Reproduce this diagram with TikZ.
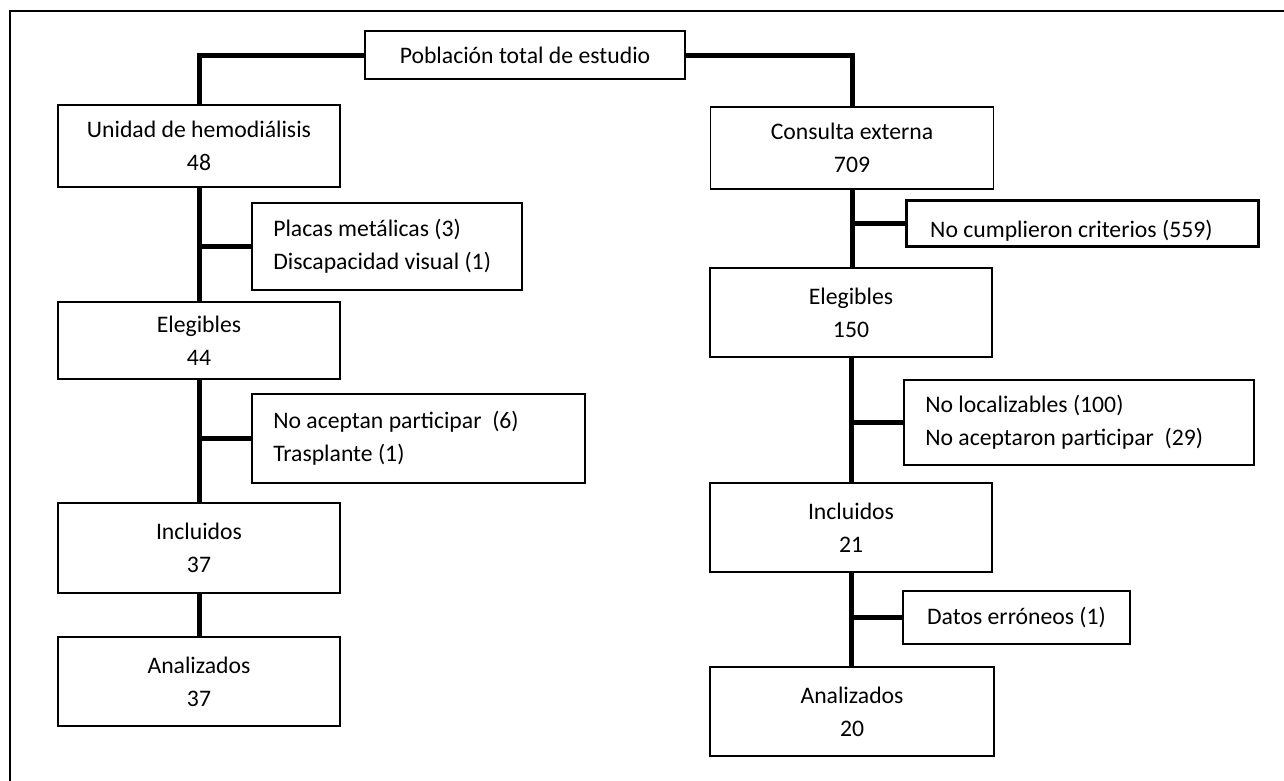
\documentclass[tikz,border=0pt]{standalone}
\usepackage{fontspec}
\setmainfont{Carlito}
\begin{document}
\begin{tikzpicture}[x=1pt,y=-1pt,
  fnt/.style={font=\fontsize{23.7}{33}\selectfont},
  mainbox/.style={draw, line width=1.8pt, align=center, inner sep=0pt, fnt},
  emptybox/.style={draw, line width=1.8pt, inner sep=0pt},
  sidetext/.style={anchor=west, align=left, inner sep=0pt, fnt},
  conn/.style={line width=5pt}]
\useasboundingbox (0,0) rectangle (1284,780);
% outer frame
\draw[line width=2pt] (10,790) -- (10,11) -- (1290,11);

% top
\node[mainbox, minimum width=320pt, minimum height=48pt] (top) at (525,55) {Población total de estudio};

% left column
\node[mainbox, minimum width=282pt, minimum height=82pt] (unidad) at (199,146) {Unidad de hemodiálisis\\48};
\node[emptybox, minimum width=270pt, minimum height=87pt] (placas) at (387,246.5) {};
\node[sidetext] (placastxt) at ([xshift=22pt]placas.west) {Placas metálicas (3)\\Discapacidad visual (1)};
\node[mainbox, minimum width=282pt, minimum height=77pt] (elegL) at (199,340.5) {Elegibles\\44};
\node[emptybox, minimum width=333pt, minimum height=89pt] (noacep) at (418.5,438.5) {};
\node[sidetext] (noaceptxt) at ([xshift=22pt]noacep.west) {No aceptan participar\ \ (6)\\Trasplante (1)};
\node[mainbox, minimum width=282pt, minimum height=90pt] (inclL) at (199,548) {Incluidos\\37};
\node[mainbox, minimum width=282pt, minimum height=89pt] (analL) at (199,681.5) {Analizados\\37};

% right column
\node[mainbox, minimum width=283pt, minimum height=82pt] (consulta) at (852,148) {Consulta externa\\709};
\node[emptybox, minimum width=351pt, minimum height=45pt] (nocump) at (1082.5,223.5) {};
\begin{scope}
  \clip (nocump.north west) rectangle (nocump.south east);
  \node[fnt, anchor=base west, inner sep=0pt] (nocumptxt) at (930,237.5) {No cumplieron criterios (559)};
\end{scope}
\draw[line width=1.8pt] (nocump.north west) rectangle (nocump.south east);
\node[mainbox, minimum width=282pt, minimum height=89pt] (elegR) at (851,312.5) {Elegibles\\150};
\node[emptybox, minimum width=350pt, minimum height=85pt] (noloc) at (1079,422.5) {};
\node[sidetext] (noloctxt) at ([xshift=22pt]noloc.west) {No localizables (100)\\No aceptaron participar\ \ (29)};
\node[mainbox, minimum width=282pt, minimum height=89pt] (inclR) at (851,527.5) {Incluidos\\21};
\node[mainbox, minimum width=227pt, minimum height=53pt] (datos) at (1016.5,617.5) {Datos erróneos (1)};
\node[mainbox, minimum width=284pt, minimum height=89pt] (analR) at (852,711.5) {Analizados\\20};

% connectors
\draw[conn] (top.west) -| (unidad.north);
\draw[conn] (top.east) -| (consulta.north);
\draw[conn] (unidad.south) -- (elegL.north);
\draw[conn] (unidad.south |- placas.west) -- (placas.west);
\draw[conn] (elegL.south) -- (inclL.north);
\draw[conn] (elegL.south |- noacep.west) -- (noacep.west);
\draw[conn] (inclL.south) -- (analL.north);

\draw[conn] (consulta.south) -- (consulta.south |- elegR.north);
\draw[conn] (consulta.south |- nocump.west) -- (nocump.west);
\draw[conn] (elegR.south) -- (inclR.north);
\draw[conn] (elegR.south |- noloc.west) -- (noloc.west);
\draw[conn] (inclR.south) -- (inclR.south |- analR.north);
\draw[conn] (inclR.south |- datos.west) -- (datos.west);
\end{tikzpicture}
\end{document}
